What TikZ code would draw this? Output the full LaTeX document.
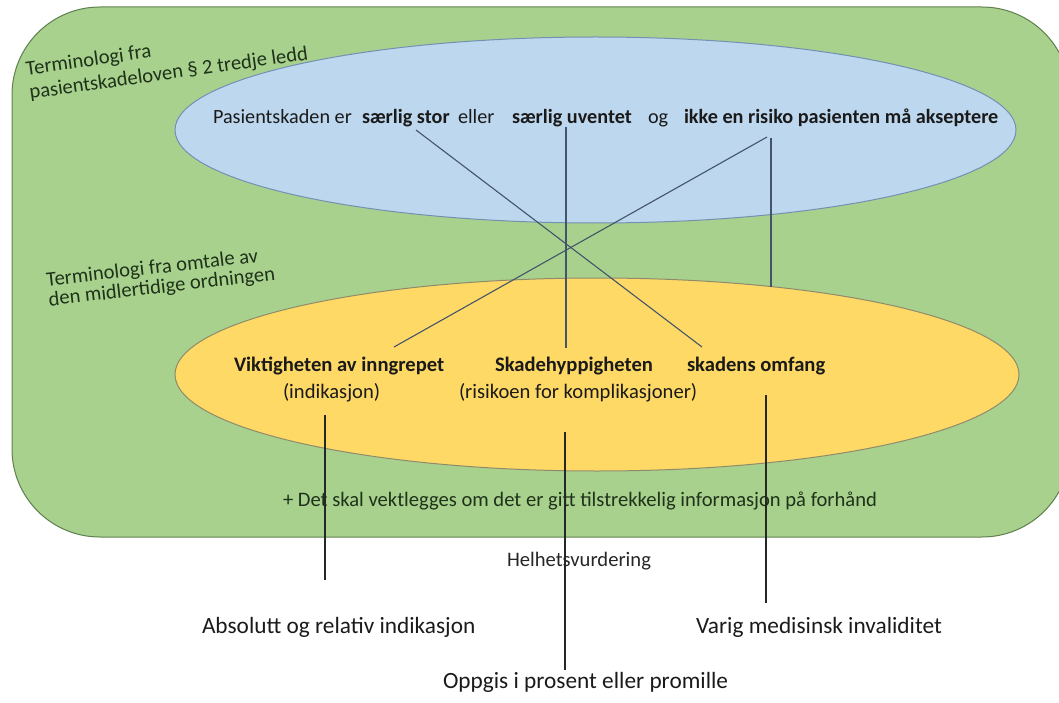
\documentclass[tikz,border=0pt]{standalone}
\usepackage{fontspec}
\setmainfont{Carlito}
\usetikzlibrary{shapes.geometric,calc}
\definecolor{framegreen}{HTML}{A9D18E}
\definecolor{framegreenline}{HTML}{5F7F4C}
\definecolor{blueell}{HTML}{BDD7EE}
\definecolor{blueline}{HTML}{7191B2}
\definecolor{yellowell}{HTML}{FFD966}
\definecolor{yellowline}{HTML}{8F8B6A}
\definecolor{upperlink}{HTML}{44546A}
\definecolor{lowerlink}{HTML}{262626}
\definecolor{greentext}{HTML}{1F321A}
\definecolor{maintext}{HTML}{1A1A1A}
\tikzset{
  txt/.style={inner sep=0pt, outer sep=0pt, anchor=base west, text=maintext,
              font=\fontsize{20.6}{24}\selectfont},
  txtb/.style={txt, font=\fontsize{20.6}{24}\selectfont\bfseries},
  bluetxt/.style={txt, font=\fontsize{20.2}{24}\selectfont},
  bluetxtb/.style={txt, font=\fontsize{20.2}{24}\selectfont\bfseries},
  bigtxt/.style={txt, font=\fontsize{23.3}{27}\selectfont},
  sidelbl/.style={inner sep=0pt, outer sep=0pt, anchor=north west, align=left, text=greentext},
  ell/.style={ellipse, inner sep=0pt, line width=1pt},
  uplink/.style={draw=upperlink, line width=1.1pt},
  lowlink/.style={draw=lowerlink, line width=1.1pt}
}
\begin{document}
\begin{tikzpicture}[x=1pt, y=-1pt]
\useasboundingbox (0,0) rectangle (1059,703);
\clip (0,0) rectangle (1059,703);

% frame
\node[draw=framegreenline, fill=framegreen, line width=1pt, rounded corners=88pt,
      minimum width=1058pt, minimum height=530pt, inner sep=0pt] (frame) at (541,272) {};

% ellipses
\node[ell, draw=blueline, fill=blueell, minimum width=841pt, minimum height=186pt] (bell) at (595.5,130) {};
\node[ell, draw=yellowline, fill=yellowell, minimum width=844pt, minimum height=193pt] (yell) at (597,374.5) {};

% side labels
\node[sidelbl, rotate=8, font=\fontsize{20.6}{24}\selectfont] (lblA) at (25,61)
  {Terminologi fra\\pasientskadeloven § 2 tredje ledd};
\node[sidelbl, rotate=6.5, font=\fontsize{20.6}{20}\selectfont] (lblB) at (45.5,272)
  {Terminologi fra omtale av\\den midlertidige ordningen};

% blue ellipse text
\node[bluetxt]  (t1) at (213,124) {Pasientskaden er};
\node[bluetxtb] (t2) at (362,124) {særlig stor};
\node[bluetxt]  (t3) at (458,124) {eller};
\node[bluetxtb] (t4) at (512,124) {særlig uventet};
\node[bluetxt]  (t5) at (648,124) {og};
\node[bluetxtb] (t6) at (684,124) {ikke en risiko pasienten må akseptere};

% yellow ellipse text
\node[txtb] (y1) at (234,371) {Viktigheten av inngrepet};
\node[txtb] (y2) at (495,371) {Skadehyppigheten};
\node[txtb] (y3) at (687,371) {skadens omfang};
\node[txt]  (y4) at (283,398) {(indikasjon)};
\node[txt]  (y5) at (459,398) {(risikoen for komplikasjoner)};

% further text
\node[txt, text=greentext] (info) at (283,506) {+ Det skal vektlegges om det er gitt tilstrekkelig informasjon på forhånd};
\node[txt, text=lowerlink] (helhet) at (507,566) {Helhetsvurdering};
\node[bigtxt] (ab) at (202,633) {Absolutt og relativ indikasjon};
\node[bigtxt] (va) at (696,633) {Varig medisinsk invaliditet};
\node[bigtxt] (op) at (443,688) {Oppgis i prosent eller promille};

% connector end points
\coordinate (l1a) at ($(t2.base west)+(54,6)$);
\coordinate (l1b) at ($(y3.base west)+(15,-24)$);
\coordinate (l2a) at ($(t4.base west)+(54,3)$);
\coordinate (l2b) at ($(y2.base west)+(71,-23)$);
\coordinate (l3a) at ($(t6.base west)+(83,13)$);
\coordinate (l3b) at ($(y1.base west)+(160,-24)$);
\coordinate (l4a) at ($(t6.base west)+(87,14)$);
\coordinate (l5a) at ($(y4.base west)+(42,17)$);
\coordinate (l5b) at ($(ab.base west)+(123,-53)$);
\coordinate (l6a) at ($(y5.base west)+(106,34)$);
\coordinate (l6b) at ($(op.base west)+(122,-18)$);
\coordinate (l7a) at ($(y3.base west)+(79,24)$);
\coordinate (l7b) at ($(va.base west)+(70,-30)$);

% connectors
\draw[uplink] (l1a) -- (l1b);
\draw[uplink] (l2a) -- (l2a |- l2b);
\draw[uplink] (l3a) -- (l3b);
\draw[uplink] (l4a) -- (l4a |- yell.26.7);
\draw[lowlink] (l5a) -- (l5a |- l5b);
\draw[lowlink] (l6a) -- (l6a |- l6b);
\draw[lowlink] (l7a) -- (l7a |- l7b);
\end{tikzpicture}
\end{document}
